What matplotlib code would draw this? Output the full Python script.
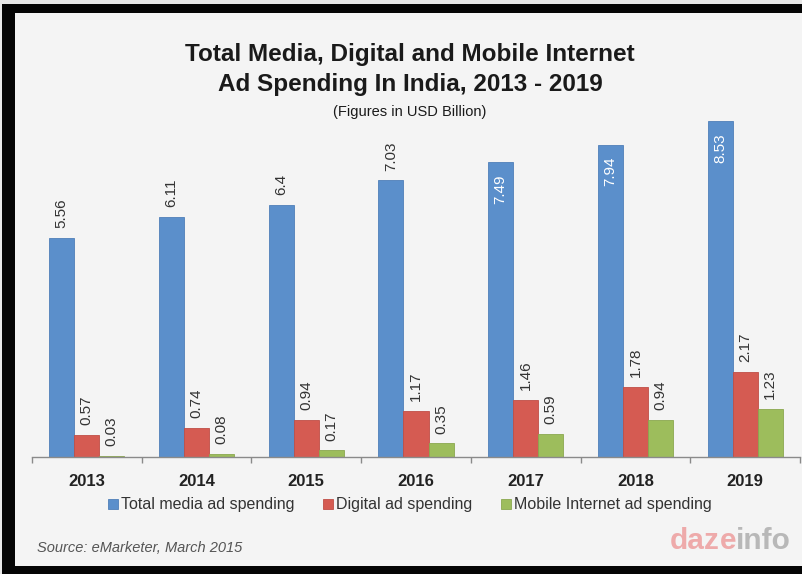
import matplotlib.pyplot as plt
from matplotlib.patches import Rectangle
import numpy as np

years = ['2013', '2014', '2015', '2016', '2017', '2018', '2019']
total_media = [5.56, 6.11, 6.4, 7.03, 7.49, 7.94, 8.53]
digital = [0.57, 0.74, 0.94, 1.17, 1.46, 1.78, 2.17]
mobile = [0.03, 0.08, 0.17, 0.35, 0.59, 0.94, 1.23]
series_names = ['Total media ad spending', 'Digital ad spending',
                'Mobile Internet ad spending']

BLUE = '#5b8fcb'
RED = '#d55b52'
GREEN = '#9dbd5c'
BG = '#f4f4f4'
TXT = '#333333'

plt.rcParams['font.family'] = ['Liberation Sans', 'DejaVu Sans']

W, H = 803, 574
fig = plt.figure(figsize=(W / 100, H / 100), dpi=100)
fig.patch.set_facecolor(BG)

# black frame (top, left, bottom)
def px_rect(x0, y0, x1, y1, color):
    fig.patches.append(Rectangle((x0 / W, 1 - y1 / H), (x1 - x0) / W,
                                 (y1 - y0) / H, transform=fig.transFigure,
                                 facecolor=color, edgecolor='none', zorder=0))

px_rect(0, 0, W, 4, '#e8e8e8')
px_rect(0, 0, 2, H, '#e8e8e8')
px_rect(2, 4, W, 13, '#050505')
px_rect(2, 4, 15, 574, '#050505')
px_rect(2, 566, W, 574, '#050505')

ax_left, ax_right, base_y, ymax = 32, 800, 457, 9.0
px_per_unit = 39.35
ax = fig.add_axes([ax_left / W, 1 - base_y / H, (ax_right - ax_left) / W,
                   ymax * px_per_unit / H])
ax.set_facecolor('none')

x = np.arange(len(years))
bw = 0.228
data = [total_media, digital, mobile]
colors = [BLUE, RED, GREEN]
edges = ['#4f7fb8', '#c04e46', '#8aa84f']
for i, (vals, c, ec) in enumerate(zip(data, colors, edges)):
    bars = ax.bar(x + (i - 1) * bw, vals, bw, color=c, edgecolor=ec,
                  linewidth=0.6, label=series_names[i], zorder=2)
    for b, v in zip(bars, vals):
        cx = b.get_x() + b.get_width() / 2
        txt = f'{v:g}'
        if i == 0 and v > 7.2:
            # the tallest bars carry their label inside, in white
            ax.annotate(txt, (cx, v), xytext=(0, -8.5), textcoords='offset points',
                        rotation=90, ha='center', va='top', fontsize=11,
                        color='white', zorder=3)
        else:
            ax.annotate(txt, (cx, v), xytext=(0, 7), textcoords='offset points',
                        rotation=90, ha='center', va='bottom', fontsize=11,
                        color=TXT, zorder=3)

ax.set_xlim(-0.5, len(years) - 0.5)
ax.set_ylim(0, ymax)
for s in ['top', 'right', 'left']:
    ax.spines[s].set_visible(False)
ax.spines['bottom'].set_color('#8a8a8a')
ax.spines['bottom'].set_linewidth(1.0)
ax.set_yticks([])
ax.set_xticks(x)
ax.set_xticklabels(years, fontsize=12, fontweight='bold', color='#222222')
ax.tick_params(axis='x', which='major', length=0, pad=12)
ax.set_xticks(np.arange(len(years) + 1) - 0.5, minor=True)
ax.tick_params(axis='x', which='minor', length=4, color='#8a8a8a', width=1.0)

handles, labels = ax.get_legend_handles_labels()
fig.legend(handles, labels, loc='center', bbox_to_anchor=(410 / W, 1 - 505 / H),
           ncol=3, frameon=False, fontsize=11.5, handlelength=0.6,
           handleheight=0.6, handletextpad=0.2, columnspacing=1.8,
           labelcolor=TXT)

title_font = ['Liberation Sans Narrow', 'Liberation Sans']
fig.text(410 / W, 1 - 55 / H, 'Total Media, Digital and Mobile Internet',
         ha='center', va='center', fontsize=17.5, fontweight='bold',
         family=title_font, color='#1a1a1a')
fig.text(410 / W, 1 - 85 / H, 'Ad Spending In India, 2013 - 2019',
         ha='center', va='center', fontsize=17.5, fontweight='bold',
         family=title_font, color='#1a1a1a')
fig.text(410 / W, 1 - 112 / H, '(Figures in USD Billion)',
         ha='center', va='center', fontsize=10.5, family=title_font,
         color='#1a1a1a')

fig.text(37 / W, 1 - 548 / H, 'Source: eMarketer, March 2015', ha='left',
         va='center', fontsize=10.5, style='italic', color='#555555')

# dazeinfo logo
lx, ly = 670 / W, 1 - 541 / H
t1 = fig.text(lx, ly, 'daz', ha='left', va='center', fontsize=21.5,
              fontweight='bold', color='#eeaaaa')
fig.canvas.draw()
bb = t1.get_window_extent()
t2 = fig.text(bb.x1 / W, ly, 'e', ha='left', va='center', fontsize=21.5,
              fontweight='bold', color='#eeaaaa')
bb2 = t2.get_window_extent()
fig.text(bb2.x1 / W, ly, 'info', ha='left', va='center', fontsize=21.5,
         fontweight='bold', color='#b8b8b8')

fig.savefig('out.png', dpi=100, facecolor=BG)
